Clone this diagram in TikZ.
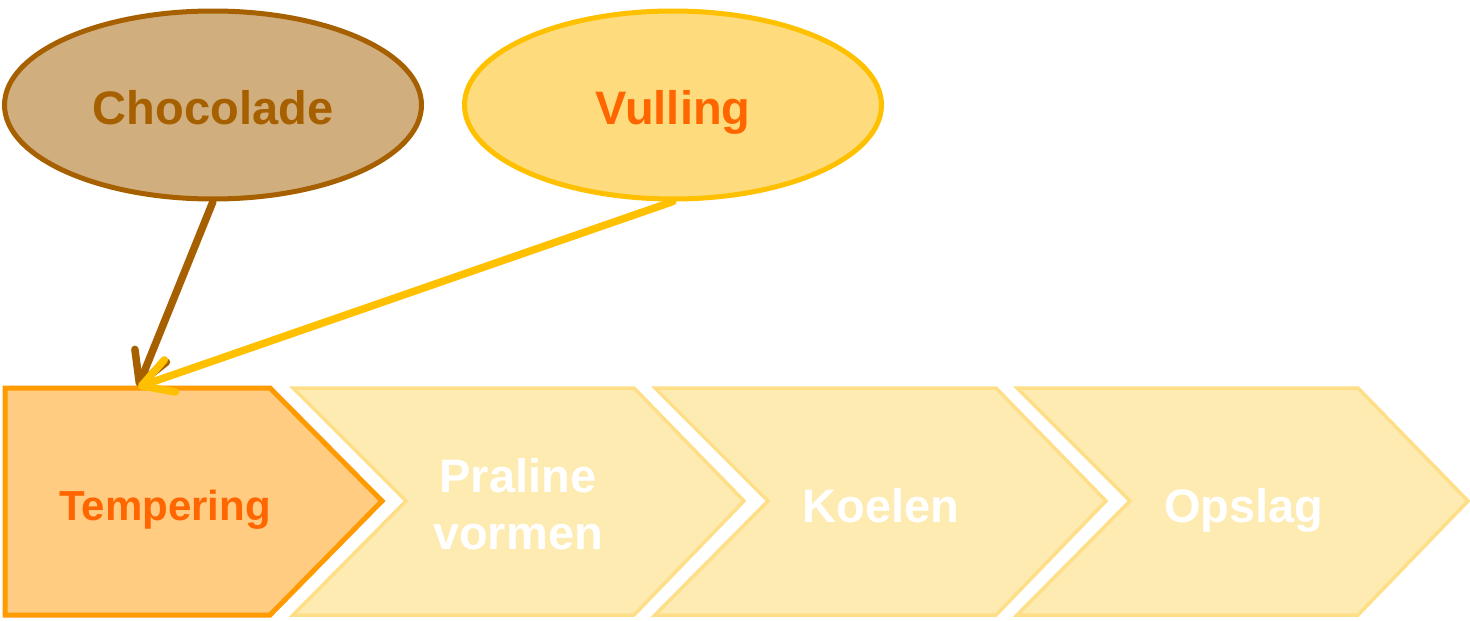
\documentclass[tikz,border=0pt]{standalone}
\usepackage{fontspec}
\setmainfont{Liberation Sans}
\usetikzlibrary{arrows.meta,shapes.geometric}
\definecolor{chocfill}{HTML}{D1AE7E}
\definecolor{chocline}{HTML}{A66000}
\definecolor{vulfill}{HTML}{FEDC7E}
\definecolor{vulline}{HTML}{FFC000}
\definecolor{orangetxt}{HTML}{FF6600}
\definecolor{tempfill}{HTML}{FFCC82}
\definecolor{templine}{HTML}{FF9A00}
\definecolor{fadefill}{HTML}{FEEBB2}
\definecolor{fadeline}{HTML}{FEDF88}
\tikzset{
  big/.style={font=\bfseries\fontsize{47}{57}\selectfont},
  oval/.style={ellipse, draw, line width=5pt, minimum width=417pt, minimum height=188pt, inner sep=0pt},
  arr/.style={line width=7.5pt, line cap=round, -{Straight Barb[length=30pt,width=34pt,line cap=round,line join=round]}},
  activechev/.style={draw=templine, fill=tempfill, line width=5pt, line join=miter},
  fadechev/.style={draw=fadeline, fill=fadefill, line width=3.5pt, line join=miter},
  lbl/.style={anchor=base, inner sep=0pt, big, align=center}
}
\begin{document}
\begin{tikzpicture}[x=1pt,y=-1pt]
\useasboundingbox (0,0) rectangle (1470,621);
% chevrons
\draw[activechev] (5,388) -- (270,388) -- (382,501) -- (270,615) -- (5,615) -- cycle;
\foreach \l in {293,655,1017}{
  \draw[fadechev] (\l,388) -- ({\l+341},388) -- ({\l+451},501) -- ({\l+341},615) -- (\l,615) -- ({\l+113},501) -- cycle;
}
\node[lbl, font=\bfseries\fontsize{42}{50}\selectfont, text=orangetxt] (temp) at (165,520) {Tempering};
\node[lbl, text=white] (pral) at (518,549) {Praline\\vormen};
\node[lbl, text=white] (koel) at (881,522) {Koelen};
\node[lbl, text=white] (opsl) at (1244,522) {Opslag};
\coordinate (tin) at (138,387);
% ellipses
\node[oval, draw=chocline, fill=chocfill] (choc) at (213,105) {};
\node[lbl, text=chocline] (choct) at (213,124) {Chocolade};
\node[oval, draw=vulline, fill=vulfill] (vul) at (673,105) {};
\node[lbl, text=orangetxt] (vult) at (673,124) {Vulling};
% arrows
\draw[arr, draw=chocline] (choc.south) -- (tin);
\draw[arr, draw=vulline] (vul.south) -- (tin);
\end{tikzpicture}
\end{document}
